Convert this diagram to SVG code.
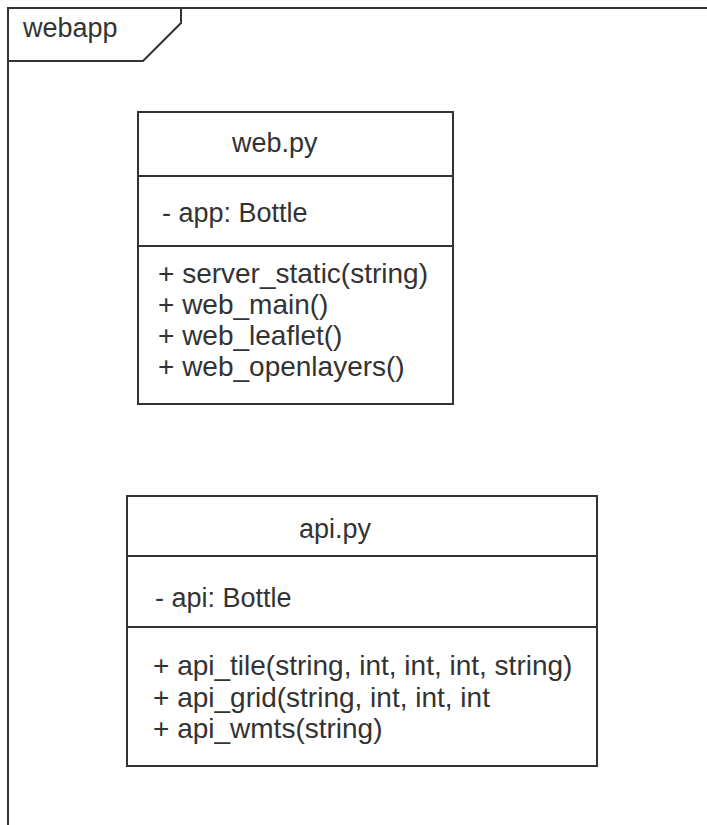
<svg xmlns="http://www.w3.org/2000/svg" width="707" height="825" viewBox="0 0 707 825">
  <style>
    .line { fill: none; stroke: #333; stroke-width: 2; }
    .box { fill: #fff; stroke: #333; stroke-width: 2; }
    text { font-family: "Liberation Sans", Arial, sans-serif; font-size: 27px; fill: #333; }
    .op { font-size: 28px; }
  </style>
  <rect width="707" height="825" fill="#fff"/>

  <!-- package frame with name tab -->
  <g id="webapp">
    <path class="line" d="M8,825 V8 H707"/>
    <path class="line" d="M8,61 H143 L181,23 V8"/>
    <text x="23" y="37" font-size="26">webapp</text>
  </g>

  <!-- class web.py -->
  <g id="web-py">
    <rect class="box" x="138" y="112" width="315" height="292"/>
    <line class="line" x1="138" y1="176" x2="453" y2="176"/>
    <line class="line" x1="138" y1="246" x2="453" y2="246"/>
    <text x="232" y="152">web.py</text>
    <text x="162" y="222">- app: Bottle</text>
    <text class="op" x="158" y="283">+ server_static(string)</text>
    <text class="op" x="158" y="314">+ web_main()</text>
    <text class="op" x="158" y="345">+ web_leaflet()</text>
    <text class="op" x="158" y="376">+ web_openlayers()</text>
  </g>

  <!-- class api.py -->
  <g id="api-py">
    <rect class="box" x="127" y="496" width="470" height="270"/>
    <line class="line" x1="127" y1="556" x2="597" y2="556"/>
    <line class="line" x1="127" y1="627" x2="597" y2="627"/>
    <text x="299" y="538">api.py</text>
    <text x="155" y="607">- api: Bottle</text>
    <text class="op" x="153" y="675">+ api_tile(string, int, int, int, string)</text>
    <text class="op" x="153" y="707">+ api_grid(string, int, int, int</text>
    <text class="op" x="153" y="738">+ api_wmts(string)</text>
  </g>
</svg>
